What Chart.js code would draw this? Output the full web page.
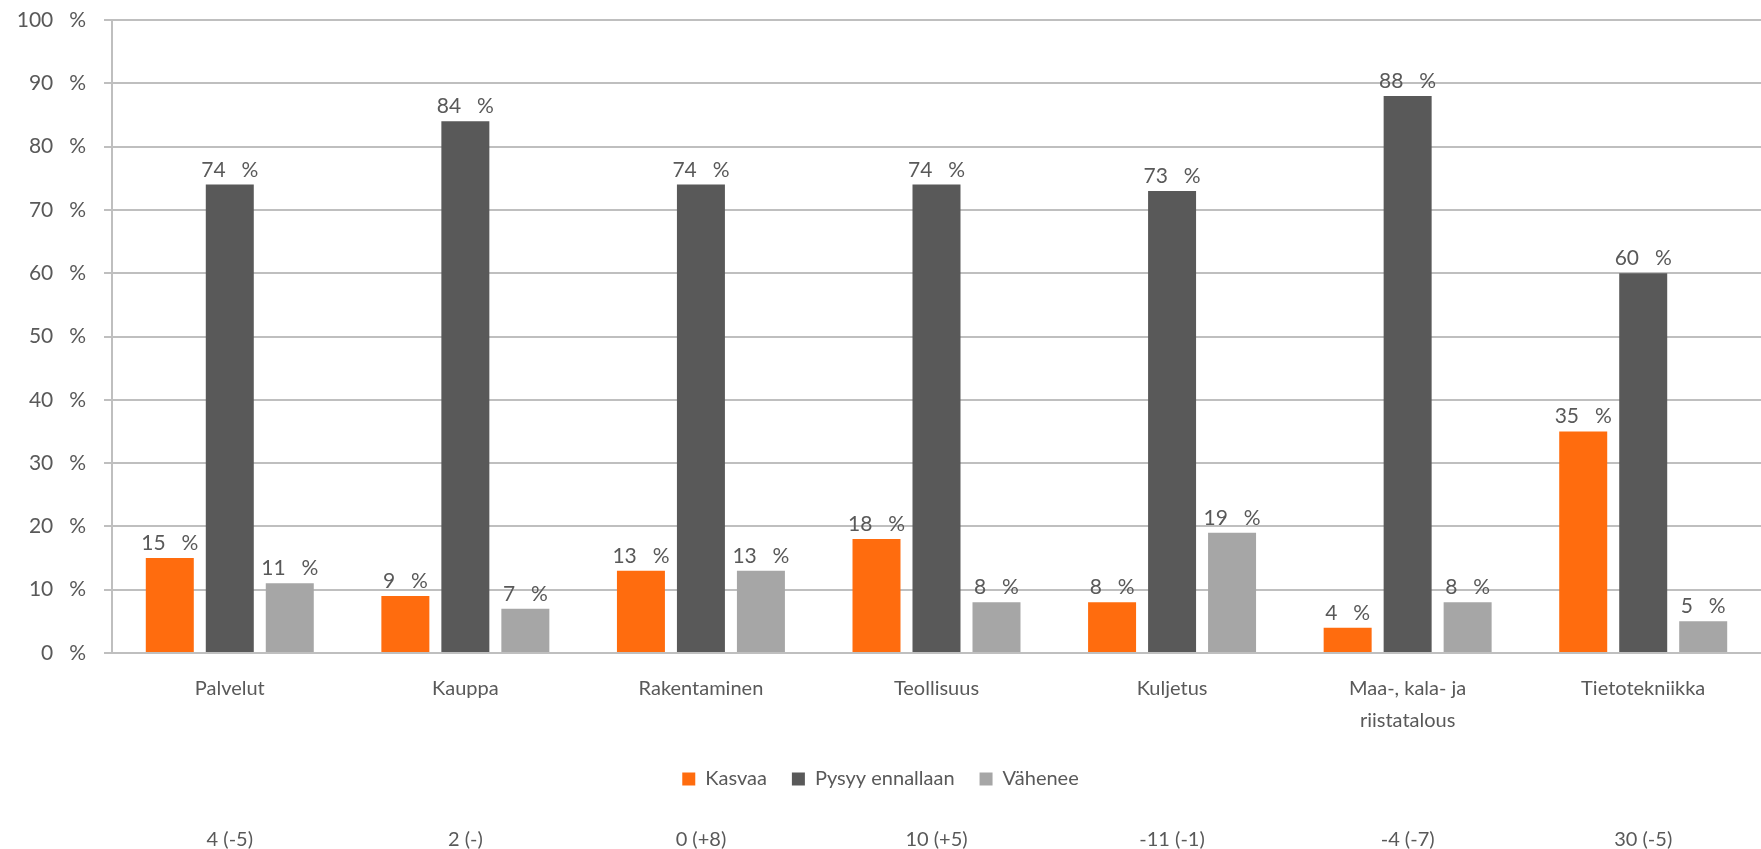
<!DOCTYPE html>
<html>
<head>
<meta charset="utf-8">
<script src="https://cdn.jsdelivr.net/npm/chart.js@4"></script>
<style>
	html, body { margin: 0; padding: 0; background: #fff; }
	#wrap { width: 1761px; height: 849px; }
</style>
</head>
<body>
<div id="wrap"><canvas id="myChart" width="1761" height="849"></canvas></div>
<script>
var categories = ['Palvelut', 'Kauppa', 'Rakentaminen', 'Teollisuus', 'Kuljetus', ['Maa-, kala- ja', 'riistatalous'], 'Tietotekniikka'];
var kasvaa = [15, 9, 13, 18, 8, 4, 35];
var pysyy = [74, 84, 74, 74, 73, 88, 60];
var vahenee = [11, 7, 13, 8, 19, 8, 5];
var bottom_labels = ['4 (-5)', '2 (-)', '0 (+8)', '10 (+5)', '-11 (-1)', '-4 (-7)', '30 (-5)'];
var y_ticks = [0, 10, 20, 30, 40, 50, 60, 70, 80, 90, 100];

var text_color = '#595959';
var grid_color = '#bfbfbf';
var font_family = 'Lato, "Open Sans", sans-serif';

/* percent text with the wide gap used in the original */
function pct(v) {
	return v + '\u2002 %';
}

/* value labels on top of each bar */
var barLabels = {
	id: 'barLabels',
	afterDatasetsDraw: function(chart) {
		var ctx = chart.ctx;
		ctx.save();
		ctx.font = '21px ' + font_family;
		ctx.fillStyle = text_color;
		ctx.textAlign = 'center';
		ctx.textBaseline = 'alphabetic';
		chart.data.datasets.forEach(function(ds, i) {
			var meta = chart.getDatasetMeta(i);
			meta.data.forEach(function(bar, j) {
				ctx.fillText(pct(ds.data[j]), bar.x, bar.y - 8);
			});
		});
		ctx.restore();
	}
};

var ctx = document.getElementById('myChart').getContext('2d');
var graph = new Chart(ctx, {
	type: 'bar',
	data: {
		labels: categories,
		datasets: [{
			label: 'Kasvaa',
			data: kasvaa,
			backgroundColor: '#ff6c0e'
		}, {
			label: 'Pysyy ennallaan',
			data: pysyy,
			backgroundColor: '#595959'
		}, {
			label: 'Vähenee',
			data: vahenee,
			backgroundColor: '#a6a6a6'
		}]
	},
	options: {
		responsive: false,
		animation: false,
		categoryPercentage: 0.764,
		barPercentage: 0.8,
		layout: {
			padding: { top: 0, right: 0, bottom: 0, left: 0 }
		},
		plugins: {
			tooltip: { enabled: false },
			legend: {
				position: 'bottom',
				labels: {
					boxWidth: 13,
					boxHeight: 13,
					padding: 25,
					color: text_color,
					font: { family: font_family, size: 20 }
				}
			}
		},
		scales: {
			x: {
				grid: { display: false, drawTicks: false },
				border: { display: true, color: grid_color, width: 2 },
				ticks: {
					color: text_color,
					padding: 20,
					maxRotation: 0,
					autoSkip: false,
					font: { family: font_family, size: 20, lineHeight: 1.6 }
				},
				afterFit: function(scale) { scale.height = 91; }
			},
			x2: {
				type: 'category',
				position: 'bottom',
				weight: 2000,
				offset: true,
				labels: bottom_labels,
				grid: { display: false, drawTicks: false },
				border: { display: false },
				ticks: {
					color: text_color,
					padding: 29,
					maxRotation: 0,
					autoSkip: false,
					font: { family: font_family, size: 20 }
				},
				afterFit: function(scale) { scale.height = 50; }
			},
			y: {
				min: 0,
				max: 100,
				afterBuildTicks: function(scale) {
					scale.ticks = y_ticks.map(function(v) { return { value: v }; });
				},
				grid: { color: grid_color, lineWidth: 2, tickLength: 8 },
				border: { display: true, color: grid_color, width: 2 },
				ticks: {
					color: text_color,
					padding: 18,
					font: { family: font_family, size: 21 },
					callback: function(v) { return pct(v); }
				},
				afterFit: function(scale) {
					scale.width = 112;
					scale.paddingTop = 20;
				}
			}
		}
	},
	plugins: [barLabels]
});
</script>
</body>
</html>
